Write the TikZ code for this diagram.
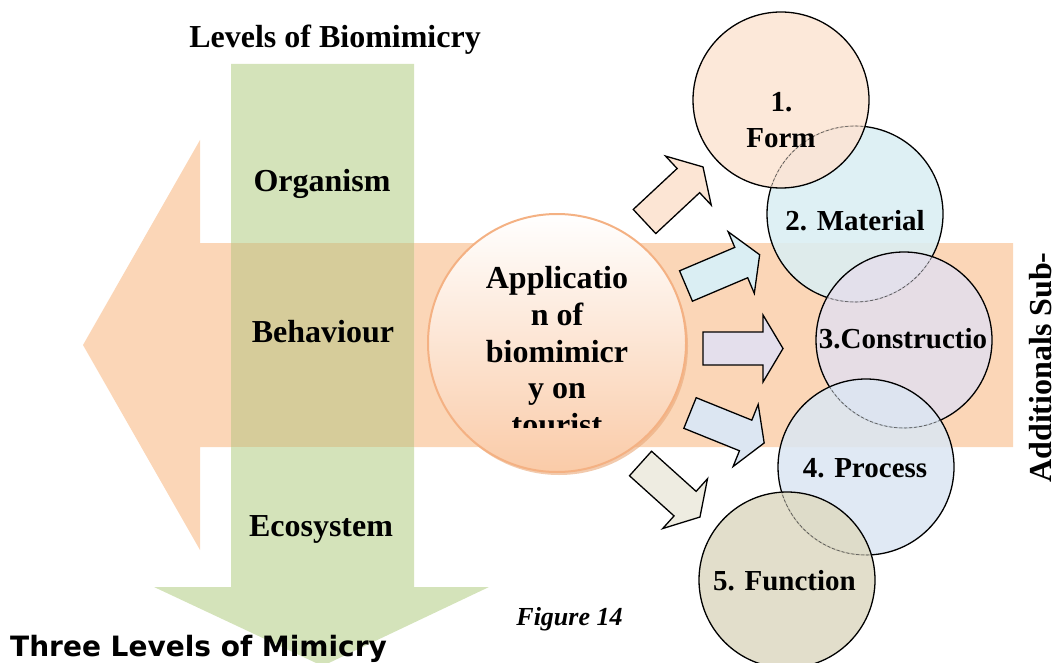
\documentclass[tikz,border=0pt]{standalone}
\usepackage{fontspec}
\setmainfont{Liberation Serif}
\newfontfamily\sansf{DejaVu Sans}
\usetikzlibrary{shadows}
\definecolor{bandor}{RGB}{251,214,183}
\definecolor{bandgr}{RGB}{212,227,186}
\definecolor{bandmix}{RGB}{214,204,154}
\definecolor{cform}{RGB}{252,229,212}
\definecolor{cmat}{RGB}{218,238,243}
\definecolor{ccon}{RGB}{228,223,236}
\definecolor{cproc}{RGB}{220,230,242}
\definecolor{cfun}{RGB}{222,218,196}
\definecolor{carr5}{RGB}{238,236,225}
\definecolor{cbord}{RGB}{244,177,131}
\definecolor{cpeach}{RGB}{250,203,168}
\tikzset{
  fatarrow/.pic={\path[pic actions] (0,-16.5) -- (60,-16.5) -- (60,-33.5) -- (80,0) -- (60,33.5) -- (60,16.5) -- (0,16.5) -- cycle;},
  arr/.style={draw=black, line width=1.3pt},
  bigtxt/.style={font=\fontsize{32}{37}\selectfont\bfseries, inner sep=0pt, anchor=base},
  ctxt/.style={font=\fontsize{29}{34}\selectfont\bfseries, inner sep=0pt, anchor=base},
  sub/.style={circle, minimum size=176pt, inner sep=0pt, draw=black, line width=1.3pt, fill opacity=0.88},
  hidden/.style={draw=black!70, densely dashed, line width=0.6pt},
}
\begin{document}
\begin{tikzpicture}[x=1pt,y=-1pt]
\useasboundingbox (0,0) rectangle (1059,663);
% orange left arrow
\fill[bandor] (1013,243) -- (200,243) -- (200,140) -- (83,345) -- (200,550) -- (200,447) -- (1013,447) -- cycle;
% green down arrow
\fill[bandgr] (231,64) -- (414,64) -- (414,587) -- (489,587) -- (322.5,666) -- (154,587) -- (231,587) -- cycle;
\fill[bandmix] (231,243) rectangle (414,447);
% titles
\node[bigtxt] (title) at (335,48) {Levels of Biomimicry};
\node[bigtxt] (org) at (322,192) {Organism};
\node[bigtxt] (beh) at (323,342) {Behaviour};
\node[bigtxt] (eco) at (321,536) {Ecosystem};
\node[inner sep=0pt, anchor=base west, font=\sansf\fontsize{28}{33}\selectfont\bfseries] (three) at (10,656) {Three Levels of Mimicry};
\node[inner sep=0pt, anchor=base, font=\fontsize{26}{30}\selectfont\bfseries\itshape] (fig) at (569.5,625) {Figure 14};
\node[bigtxt, rotate=90] (add) at (1051,367.5) {Additionals Sub-};
% central circle
\node[circle, minimum size=258pt, inner sep=0pt, draw=cbord, line width=2pt,
  top color=white, bottom color=cpeach,
  drop shadow={shadow xshift=2pt, shadow yshift=-3pt, fill=cbord!80!brown, opacity=0.6}] (app) at (557,343) {};
\begin{scope}
\clip (420,200) rectangle (700,427);
\node[bigtxt] (l1) at (557,288) {Applicatio};
\node[bigtxt] (l2) at (557,325) {n of};
\node[bigtxt] (l3) at (557,362) {biomimicr};
\node[bigtxt] (l4) at (557,398) {y on};
\node[bigtxt] (l5) at (557,435) {tourist};
\end{scope}
% block arrows
\pic[arr, fill=cform, rotate=43] (a1) at (644.5,221.5) {fatarrow};
\pic[arr, fill=cmat, rotate=23] (a2) at (686,286) {fatarrow};
\pic[arr, fill=ccon, rotate=0] (a3) at (703,348.5) {fatarrow};
\pic[arr, fill=cproc, rotate=-22] (a4) at (690,413) {fatarrow};
\pic[arr, fill=carr5, rotate=-42] (a5) at (640.5,463.5) {fatarrow};
% sub-criteria circles
\node[sub, fill=cmat] (f2) at (855,214) {};
\node[sub, fill=cform] (f1) at (781,100) {};
\node[sub, fill=ccon] (f3) at (904,340) {};
\node[sub, fill=cproc] (f4) at (866,467) {};
\node[sub, fill=cfun] (f5) at (787,580) {};
\begin{scope}\clip (f1.center) circle (88); \draw[hidden] (f2.center) circle (88); \end{scope}
\begin{scope}\clip (f3.center) circle (88); \draw[hidden] (f2.center) circle (88); \end{scope}
\begin{scope}\clip (f4.center) circle (88); \draw[hidden] (f3.center) circle (88); \end{scope}
\begin{scope}\clip (f5.center) circle (88); \draw[hidden] (f4.center) circle (88); \end{scope}
\node[ctxt] (t1a) at (781.5,112) {1.};
\node[ctxt] (t1b) at (781,148) {Form};
\node[ctxt] (t2) at (855,230) {2. Material};
\node[ctxt] (t3) at (903,348) {3.Constructio};
\node[ctxt] (t4) at (865,477) {4. Process};
\node[ctxt] (t5) at (784.5,590) {5. Function};
\end{tikzpicture}
\end{document}
